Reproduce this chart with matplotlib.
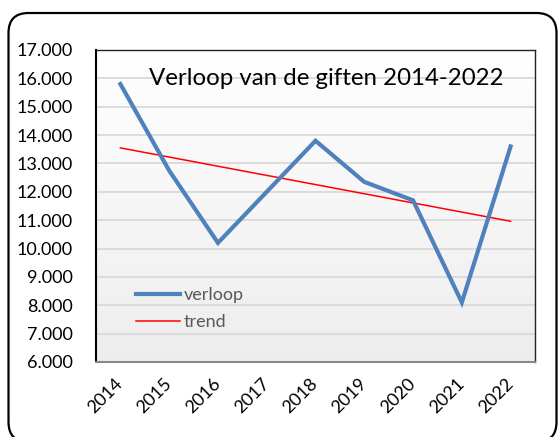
import numpy as np
import matplotlib
matplotlib.use("Agg")
import matplotlib.pyplot as plt
from matplotlib.patches import FancyBboxPatch
from matplotlib.ticker import FuncFormatter

years = ["2014", "2015", "2016", "2017", "2018", "2019", "2020", "2021", "2022"]
verloop = [15800, 12750, 10200, 12000, 13800, 12350, 11700, 8100, 13600]
title = "Verloop van de giften 2014-2022"

plt.rcParams['font.family'] = ['Lato', 'DejaVu Sans']

W, H = 560, 437
fig = plt.figure(figsize=(W / 100, H / 100), dpi=100)

# outer rounded frame
frame = FancyBboxPatch((0.085, -0.05), 5.48, 4.29,
                       boxstyle="round,pad=0,rounding_size=0.2",
                       transform=fig.dpi_scale_trans, fill=False,
                       edgecolor="black", linewidth=1.6, zorder=0)
fig.patches.append(frame)

L, T, R, B = 96, 50, 535, 362
ax = fig.add_axes([L / W, (H - B) / H, (R - L) / W, (B - T) / H])

x = np.arange(len(years))
ax.set_xlim(-0.5, len(years) - 0.5)
ax.set_ylim(6000, 17000)

# gradient background
grad = np.linspace(1.0, 0.93, 256).reshape(-1, 1)
ax.imshow(np.dstack([grad, grad, grad]), extent=[-0.5, len(years) - 0.5, 6000, 17000],
          aspect="auto", zorder=0, interpolation="bilinear")

ax.set_yticks(np.arange(6000, 17001, 1000))
ax.yaxis.grid(True, color="#d9d9d9", linewidth=1.3, zorder=1)
ax.set_axisbelow(True)
ax.yaxis.set_major_formatter(FuncFormatter(lambda v, p: f"{int(v):,}".replace(",", ".")))

ax.plot(x, verloop, color="#4f81bd", linewidth=3.0, label="verloop", zorder=3,
        solid_joinstyle="miter")
coef = np.polyfit(x, verloop, 1)
trend = np.polyval(coef, x)
ax.plot(x, trend, color="#ff0000", linewidth=1.1, label="trend", zorder=2)

ax.set_xticks(x)
ax.set_xticklabels(years, rotation=45, ha="right", va="center", rotation_mode="anchor")
ax.tick_params(axis="x", length=0, pad=14, labelsize=13)
ax.tick_params(axis="y", length=0, pad=17, labelsize=13)

for s in ["top", "right"]:
    ax.spines[s].set_color("#222222")
    ax.spines[s].set_linewidth(1.0)
ax.spines["left"].set_color("black")
ax.spines["left"].set_linewidth(1.5)
ax.spines["bottom"].set_color("#888888")
ax.spines["bottom"].set_linewidth(1.5)

ax.text(0.524, 0.91, title, transform=ax.transAxes, ha="center", va="center",
        fontsize=17.3, color="black", zorder=4)

leg = ax.legend(loc="lower left", bbox_to_anchor=(0.055, 0.05), frameon=False,
                fontsize=13, handlelength=2.4, handletextpad=0.22, labelspacing=0.6)
for t in leg.get_texts():
    t.set_color("#595959")

fig.savefig("out.png", dpi=100)
